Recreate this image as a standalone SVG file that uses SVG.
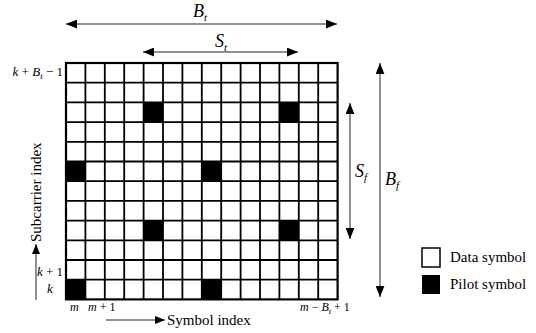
<svg xmlns="http://www.w3.org/2000/svg" width="536" height="333" viewBox="0 0 536 333">
<defs>
<style>
.gl{stroke:#000;stroke-width:1.8;fill:none}
.border{stroke:#000;stroke-width:2.2;fill:none}
.pilot{fill:#000}
.ar{stroke:#222;stroke-width:1;fill:none}
.t{font-family:"Liberation Serif","Times New Roman",serif;fill:#000}
.m{font-family:"Liberation Serif","Times New Roman",serif;font-style:italic;fill:#000}
</style>
<marker id="ah" viewBox="0 0 10 8" refX="10" refY="4" markerWidth="11" markerHeight="9" markerUnits="userSpaceOnUse" orient="auto-start-reverse">
<path d="M0,0 L10,4 L0,8 z" fill="#000"/>
</marker>
<marker id="ahs" viewBox="0 0 10 8" refX="10" refY="4" markerWidth="10" markerHeight="8" markerUnits="userSpaceOnUse" orient="auto-start-reverse">
<path d="M0,0 L10,4 L0,8 z" fill="#000"/>
</marker>
</defs>
<rect width="536" height="333" fill="#fff"/>

<g id="grid">
<rect x="66" y="63" width="271.6" height="236.4" fill="#fff"/>
<g id="pilots" class="pilot">
<rect x="143.6" y="102.4" width="19.4" height="19.7"/>
<rect x="279.4" y="102.4" width="19.4" height="19.7"/>
<rect x="66" y="161.5" width="19.4" height="19.7"/>
<rect x="201.8" y="161.5" width="19.4" height="19.7"/>
<rect x="143.6" y="220.6" width="19.4" height="19.7"/>
<rect x="279.4" y="220.6" width="19.4" height="19.7"/>
<rect x="66" y="279.7" width="19.4" height="19.7"/>
<rect x="201.8" y="279.7" width="19.4" height="19.7"/>
</g>
<path class="gl" d="M85.4,63V299.4M104.8,63V299.4M124.2,63V299.4M143.6,63V299.4M163,63V299.4M182.4,63V299.4M201.8,63V299.4M221.2,63V299.4M240.6,63V299.4M260,63V299.4M279.4,63V299.4M298.8,63V299.4M318.2,63V299.4"/>
<path class="gl" d="M66,82.7H337.6M66,102.4H337.6M66,122.1H337.6M66,141.8H337.6M66,161.5H337.6M66,181.2H337.6M66,200.9H337.6M66,220.6H337.6M66,240.3H337.6M66,260H337.6M66,279.7H337.6"/>
<rect class="border" x="66" y="63" width="271.6" height="236.4"/>
</g>

<g id="connectors">
<line class="ar" x1="66" y1="24" x2="337" y2="24" marker-start="url(#ah)" marker-end="url(#ah)"/>
<line class="ar" x1="143" y1="52" x2="298" y2="52" marker-start="url(#ah)" marker-end="url(#ah)"/>
<line class="ar" x1="350" y1="103" x2="350" y2="239" marker-start="url(#ah)" marker-end="url(#ah)"/>
<line class="ar" x1="380" y1="63" x2="380" y2="297" marker-start="url(#ah)" marker-end="url(#ah)"/>
<line class="ar" x1="36" y1="300" x2="36" y2="244" marker-end="url(#ahs)"/>
<line class="ar" x1="106" y1="320" x2="165" y2="320" marker-end="url(#ahs)"/>
</g>

<g id="dimension-labels">
<text class="m" x="193" y="17" font-size="18">B<tspan font-size="11" dy="4">t</tspan></text>
<text class="m" x="215" y="47" font-size="18">S<tspan font-size="11" dy="4">t</tspan></text>
<text class="m" x="355" y="177" font-size="18">S<tspan font-size="11" dy="4">f</tspan></text>
<text class="m" x="385" y="185" font-size="18">B<tspan font-size="11" dy="4">f</tspan></text>
</g>

<g id="axis-labels">
<text class="t" font-size="13" x="63" y="76" text-anchor="end"><tspan class="m">k</tspan> + <tspan class="m">B</tspan><tspan class="m" font-size="9" dy="3">t</tspan><tspan dy="-3"> − 1</tspan></text>
<text class="t" font-size="13" x="63" y="276" text-anchor="end"><tspan class="m">k</tspan> + 1</text>
<text class="m" font-size="13" x="47" y="293">k</text>
<text class="m" font-size="12" x="70" y="311">m</text>
<text class="t" font-size="12" x="88" y="311"><tspan class="m">m</tspan> + 1</text>
<text class="t" font-size="12" x="300" y="311"><tspan class="m">m</tspan> − <tspan class="m">B</tspan><tspan class="m" font-size="8" dy="3">t</tspan><tspan dy="-3"> + 1</tspan></text>
<text class="t" font-size="15" x="41" y="242" transform="rotate(-90 41 242)">Subcarrier index</text>
<text class="t" font-size="15" x="167" y="325">Symbol index</text>
</g>

<g id="legend-data">
<rect x="422" y="248" width="18" height="19" fill="#fff" stroke="#000" stroke-width="1.5"/>
<text class="t" font-size="15" x="450" y="262">Data symbol</text>
</g>
<g id="legend-pilot">
<rect x="422" y="275" width="18" height="19" fill="#000"/>
<text class="t" font-size="15" x="450" y="289">Pilot symbol</text>
</g>
</svg>
